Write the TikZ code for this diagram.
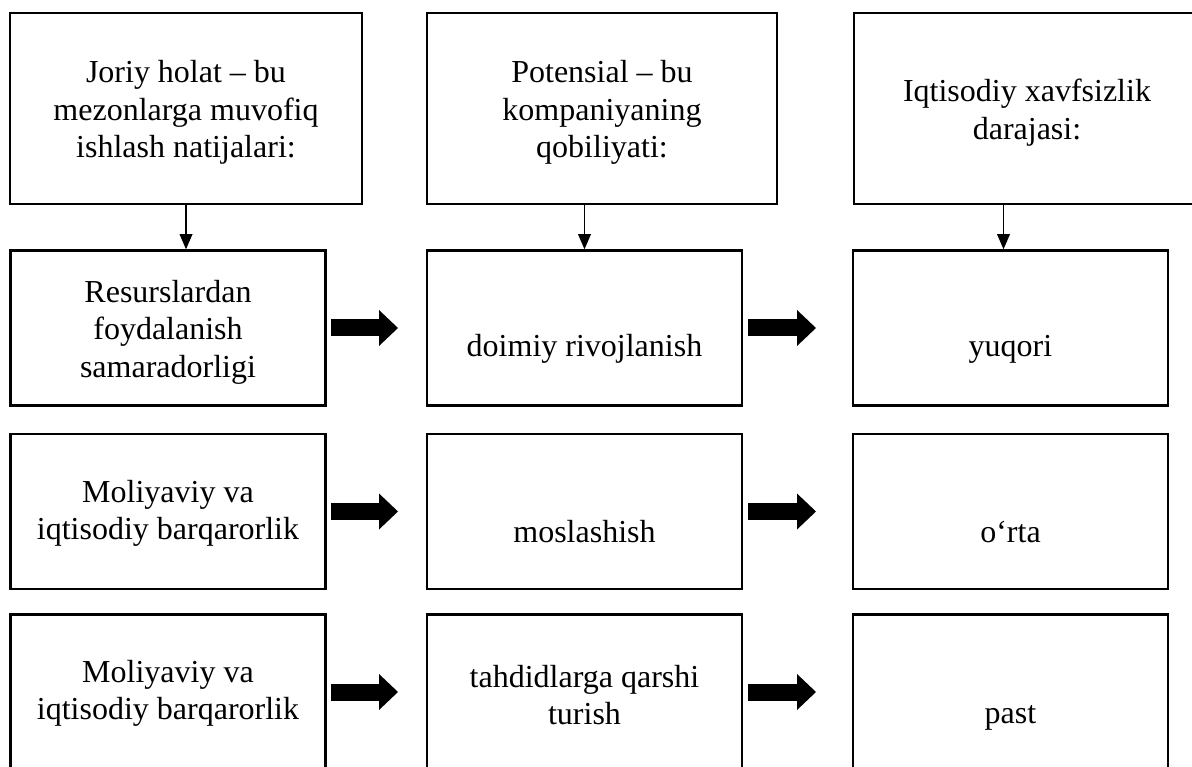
\documentclass[tikz,border=0pt]{standalone}
\usepackage{fontspec}
\setmainfont{Liberation Serif}
\usetikzlibrary{arrows.meta, positioning}
\tikzstyle{caja} = [draw, line width=2.5pt, rectangle, inner sep=0pt, align=flush center, font=\fontsize{32pt}{37.5pt}\selectfont]
\tikzstyle{cajaalta} = [caja, minimum height=191pt]
\tikzstyle{cajafila} = [caja, minimum width=315pt, minimum height=155pt, text width=305pt]
\tikzstyle{txtup} = [text height=0pt, text depth=#1]
\tikzstyle{txtdown} = [text height=#1, text depth=0pt]
\tikzstyle{flecha} = [line width=1.5pt, -{Triangle[length=15pt,width=13pt,line width=0pt]}]
\tikzstyle{gorda} = [line width=17pt, -{Triangle[length=19pt,width=36pt,line width=0pt]}]

\begin{document}
\begin{tikzpicture}[x=1pt, y=-1pt]
	\clip (0,0) rectangle (1192,767);
	\fill[white] (0,0) rectangle (1192,767);
	% encabezados
	\node[cajaalta, minimum width=352pt, text width=335pt, txtup=51pt] (joriy) at (186,108.5)
		{Joriy holat – bu\\ mezonlarga muvofiq\\ ishlash natijalari:};
	\node[cajaalta, minimum width=350pt, text width=335pt, txtup=51pt] (potensial) at (602,108.5)
		{Potensial – bu\\ kompaniyaning\\ qobiliyati:};
	\node[cajaalta, minimum width=346pt, text width=335pt, txtup=13pt] (daraja) at (1027,108.5)
		{Iqtisodiy xavfsizlik\\ darajasi:};
	% filas
	\node[cajafila, txtup=51pt] (ja) at (168,328) {Resurslardan\\ foydalanish\\ samaradorligi};
	\node[cajafila, txtdown=57pt] (pa) at (584.5,328) {doimiy rivojlanish};
	\node[cajafila, txtdown=57pt] (da) at (1010.5,328) {yuqori};
	\node[cajafila, txtup=19pt] (jb) at (168,511.5) {Moliyaviy va\\ iqtisodiy barqarorlik};
	\node[cajafila, txtdown=61pt] (pb) at (584.5,511.5) {moslashish};
	\node[cajafila, txtdown=61pt] (db) at (1010.5,511.5) {o‘rta};
	\node[cajafila, txtup=20pt] (jc) at (168,692) {Moliyaviy va\\ iqtisodiy barqarorlik};
	\node[cajafila, txtup=10pt] (pc) at (584.5,692) {tahdidlarga qarshi\\ turish};
	\node[cajafila, txtdown=62pt] (dc) at (1010.5,692) {past};
	% flechas finas
	\draw[flecha] (joriy.south) -- (joriy.south |- ja.north);
	\draw[flecha] (pa.north |- potensial.south) -- (pa.north);
	\draw[flecha] ([xshift=-7pt]da.north |- daraja.south) -- ([xshift=-7pt]da.north);
	% flechas gordas
	\foreach \f in {a,b,c}{
		\draw[gorda, shorten <=3.75pt, shorten >=27.75pt] (j\f) -- (p\f);
		\draw[gorda, shorten <=4.75pt, shorten >=35.75pt] (p\f) -- (d\f);
	}
\end{tikzpicture}
\end{document}
